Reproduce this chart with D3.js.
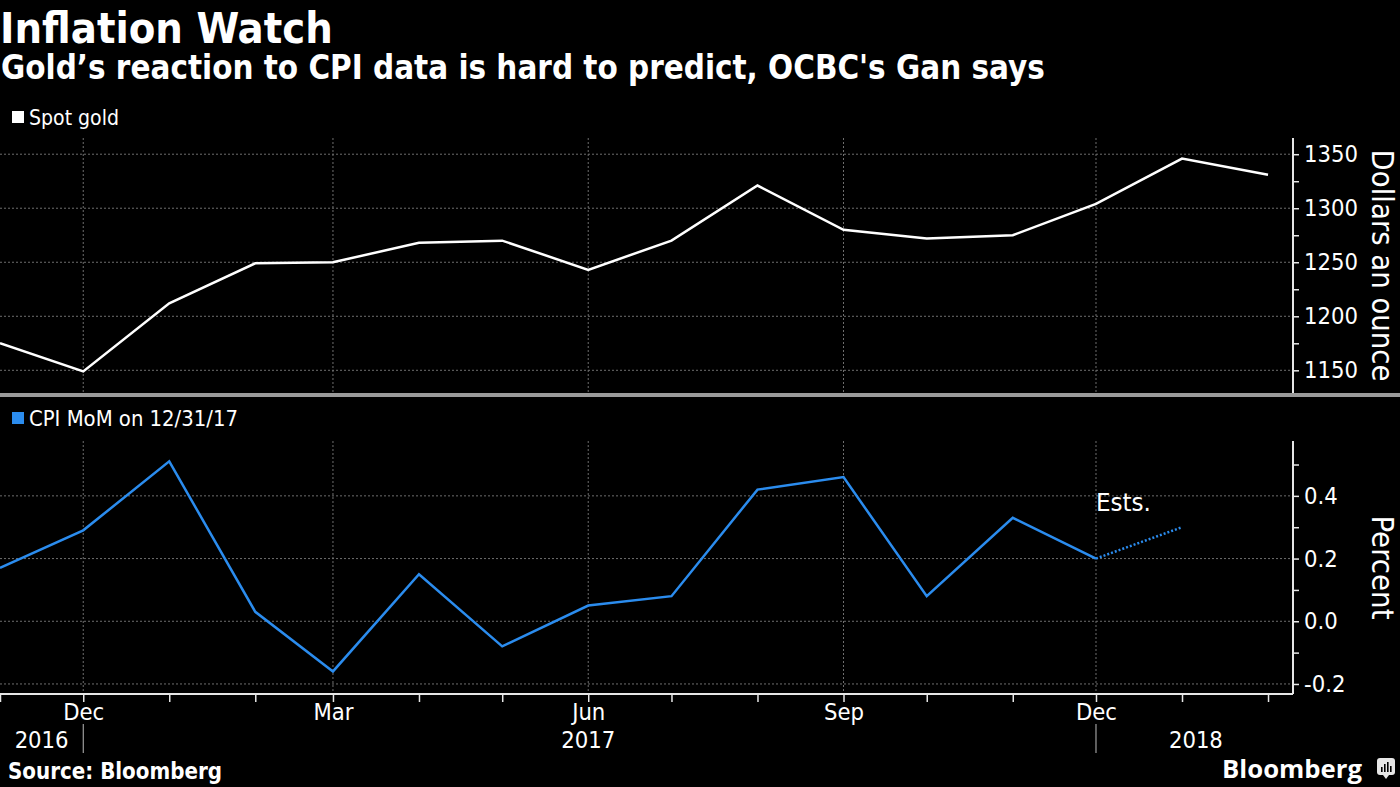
<!DOCTYPE html>
<html>
<head>
<meta charset="utf-8">
<script src="https://cdn.jsdelivr.net/npm/d3@7"></script>
<style>
  body { margin: 0; background: #000; }
  svg { display: block; }
  text { font-family: "DejaVu Sans Condensed", "Liberation Sans Narrow", "Open Sans", sans-serif; fill: #fff; }
</style>
</head>
<body>
<div id="chart"></div>
<script>
// monthly points, Nov 2016 .. Feb 2018
var goldMonths = ["2016-11", "2016-12", "2017-01", "2017-02", "2017-03", "2017-04", "2017-05", "2017-06",
    "2017-07", "2017-08", "2017-09", "2017-10", "2017-11", "2017-12", "2018-01", "2018-02"];
var goldValues = [1175, 1149, 1212, 1249, 1250, 1268, 1270, 1243, 1270, 1321, 1280, 1272, 1275, 1304, 1346, 1331];

var cpiMonths = ["2016-11", "2016-12", "2017-01", "2017-02", "2017-03", "2017-04", "2017-05", "2017-06",
    "2017-07", "2017-08", "2017-09", "2017-10", "2017-11", "2017-12"];
var cpiValues = [0.17, 0.29, 0.51, 0.03, -0.16, 0.15, -0.08, 0.05, 0.08, 0.42, 0.46, 0.08, 0.33, 0.2];

var estMonths = ["2017-12", "2018-01"];
var estValues = [0.2, 0.3];

var goldTicks = [1150, 1200, 1250, 1300, 1350];
var goldMinor = [1175, 1225, 1275, 1325];
var cpiTicks = [-0.2, 0.0, 0.2, 0.4];
var cpiMinor = [-0.1, 0.1, 0.3, 0.5];
var labelMonths = ["2016-12", "2017-03", "2017-06", "2017-09", "2017-12"];
var yearLabels = [["2016", "2016-11-16"], ["2017", "2017-06-01"], ["2018", "2018-01-06"]];
var yearBreaks = ["2016-12", "2017-12"];

var parse = d3.timeParse("%Y-%m");
var parseDay = d3.timeParse("%Y-%m-%d");

var W = 1400, H = 787;
var svg = d3.select("#chart").append("svg")
    .attr("width", W)
    .attr("height", H);

var axisX = 1293;
var x = d3.scaleTime()
    .domain([new Date(2016, 10, 1), new Date(2018, 1, 10)])
    .range([0, axisX]);

var y1 = d3.scaleLinear().domain([1129, 1365]).range([393, 138]);
var y2 = d3.scaleLinear().domain([-0.232, 0.575]).range([694, 441]);

// fit a text's font-size to a target width
function fit(sel, w) {
    var fs = parseFloat(sel.style("font-size"));
    var cur = sel.node().getComputedTextLength();
    sel.style("font-size", (fs * w / cur) + "px");
}

// titles
var t1 = svg.append("text").attr("x", 0).attr("y", 43)
    .style("font-weight", "bold").style("font-size", "42px").text("Inflation Watch");
fit(t1, 333);
var t2 = svg.append("text").attr("x", 1).attr("y", 79)
    .style("font-weight", "bold").style("font-size", "32px")
    .text("Gold\u2019s reaction to CPI data is hard to predict, OCBC's Gan says");
fit(t2, 1044);

// tick label size, shared
var probe = svg.append("text").style("font-size", "24px").text("1350");
var tickFs = 24 * 54 / probe.node().getComputedTextLength();
probe.remove();

var fontStack = "\"DejaVu Sans Condensed\", \"Liberation Sans Narrow\", \"Open Sans\", sans-serif";

function panel(y, top, bottom, ticks, minor, fmt, title, titleLen) {
    var g = svg.append("g");
    // horizontal grid
    g.selectAll(".hg").data(ticks).enter().append("line")
        .attr("x1", 0).attr("x2", axisX)
        .attr("y1", function (d) { return y(d); })
        .attr("y2", function (d) { return y(d); })
        .attr("stroke", "#6e6e6e").attr("stroke-width", 1)
        .attr("stroke-dasharray", "2,2");
    // vertical grid
    g.selectAll(".vg").data(labelMonths).enter().append("line")
        .attr("x1", function (d) { return x(parse(d)); })
        .attr("x2", function (d) { return x(parse(d)); })
        .attr("y1", top).attr("y2", bottom)
        .attr("stroke", "#6e6e6e").attr("stroke-width", 1)
        .attr("stroke-dasharray", "2,2");

    var ax = d3.axisRight(y)
        .tickValues(ticks.concat(minor))
        .tickSize(6)
        .tickPadding(5)
        .tickFormat(function (d) { return ticks.indexOf(d) >= 0 ? fmt(d).replace("\u2212", "-") : ""; });
    var a = g.append("g")
        .attr("transform", "translate(" + axisX + ",0)")
        .call(ax);
    a.select(".domain").remove();
    a.append("line").attr("x1", 0).attr("x2", 0).attr("y1", top).attr("y2", bottom)
        .attr("stroke", "#e6e6e6").attr("stroke-width", 2);
    a.selectAll(".tick line").attr("stroke", "#e6e6e6").attr("stroke-width", 1.5);
    a.selectAll(".tick text")
        .attr("fill", "#e6e6e6")
        .style("font-family", fontStack)
        .style("font-size", tickFs + "px");

    var mid = (top + bottom) / 2;
    var at = g.append("text")
        .attr("transform", "translate(1372," + mid + ") rotate(90)")
        .attr("text-anchor", "middle")
        .style("font-size", "27px")
        .attr("fill", "#e6e6e6")
        .text(title);
    fit(at, titleLen);
    return g;
}

panel(y1, 138, 393, goldTicks, goldMinor, d3.format("d"), "Dollars an ounce", 232);
panel(y2, 441, 694, cpiTicks, cpiMinor, d3.format(".1f"), "Percent", 104);

// separator
svg.append("rect").attr("x", 0).attr("y", 393).attr("width", W).attr("height", 4)
    .attr("fill", "#9a9a9a");

// legends
svg.append("rect").attr("x", 12).attr("y", 111).attr("width", 12).attr("height", 12).attr("fill", "#fff");
var l1 = svg.append("text").attr("x", 29).attr("y", 125).style("font-size", "20px")
    .attr("fill", "#e6e6e6").text("Spot gold");
fit(l1, 90);
svg.append("rect").attr("x", 12).attr("y", 412).attr("width", 12).attr("height", 12).attr("fill", "#2b8cee");
var l2 = svg.append("text").attr("x", 29).attr("y", 426).style("font-size", "20px")
    .attr("fill", "#e6e6e6").text("CPI MoM on 12/31/17");
fit(l2, 209);

// lines
var line1 = d3.line()
    .x(function (d, i) { return x(parse(goldMonths[i])); })
    .y(function (d) { return y1(d); });
svg.append("path").datum(goldValues)
    .attr("d", line1)
    .attr("fill", "none").attr("stroke", "#fff").attr("stroke-width", 2.5);

var line2 = d3.line()
    .x(function (d, i) { return x(parse(cpiMonths[i])); })
    .y(function (d) { return y2(d); });
svg.append("path").datum(cpiValues)
    .attr("d", line2)
    .attr("fill", "none").attr("stroke", "#2b8cee").attr("stroke-width", 2.5);

var line3 = d3.line()
    .x(function (d, i) { return x(parse(estMonths[i])); })
    .y(function (d) { return y2(d); });
svg.append("path").datum(estValues)
    .attr("d", line3)
    .attr("fill", "none").attr("stroke", "#2b8cee").attr("stroke-width", 2.5)
    .attr("stroke-dasharray", "2,2");

var est = svg.append("text")
    .attr("x", x(parse("2017-12")))
    .attr("y", 511)
    .style("font-size", "24px")
    .text("Ests.");
fit(est, 55);

// x axis
var xAxis = d3.axisBottom(x)
    .ticks(d3.timeMonth.every(1))
    .tickSize(8)
    .tickPadding(1)
    .tickFormat(function (d) {
        var k = d3.timeFormat("%Y-%m")(d);
        return labelMonths.indexOf(k) >= 0 ? d3.timeFormat("%b")(d) : "";
    });
var xa = svg.append("g")
    .attr("transform", "translate(0,694)")
    .call(xAxis);
xa.select(".domain").remove();
xa.append("line").attr("x1", 0).attr("x2", axisX).attr("y1", 0).attr("y2", 0)
    .attr("stroke", "#e6e6e6").attr("stroke-width", 2);
xa.selectAll(".tick line").attr("stroke", "#e6e6e6").attr("stroke-width", 1.5);
xa.selectAll(".tick text")
    .attr("fill", "#e6e6e6")
    .style("font-family", fontStack)
    .style("font-size", tickFs + "px");

// years
svg.selectAll(".yr").data(yearLabels).enter().append("text")
    .attr("x", function (d) { return x(parseDay(d[1])); })
    .attr("y", 748)
    .attr("text-anchor", "middle")
    .attr("fill", "#e6e6e6")
    .style("font-size", tickFs + "px")
    .text(function (d) { return d[0]; });
svg.selectAll(".yb").data(yearBreaks).enter().append("line")
    .attr("x1", function (d) { return x(parse(d)); })
    .attr("x2", function (d) { return x(parse(d)); })
    .attr("y1", 724).attr("y2", 753)
    .attr("stroke", "#bbb").attr("stroke-width", 1);

// footer
var src = svg.append("text").attr("x", 8).attr("y", 779)
    .style("font-weight", "bold").style("font-size", "20px").text("Source: Bloomberg");
fit(src, 214);

var bb = svg.append("text").attr("x", 1362).attr("y", 778)
    .attr("text-anchor", "end")
    .style("font-family", "\"Open Sans\", \"DejaVu Sans\", sans-serif")
    .style("font-weight", "bold").style("font-size", "27px").text("Bloomberg");
fit(bb, 140);

// small logo
var logo = svg.append("g").attr("transform", "translate(1377,758)");
logo.append("rect").attr("width", 18).attr("height", 17).attr("rx", 3).attr("fill", "#e6e6e6");
logo.append("path").attr("d", "M6,17 L9,21 L12,17 Z").attr("fill", "#e6e6e6");
[[4, 9], [7, 6], [10, 4], [13, 8]].forEach(function (b) {
    logo.append("rect").attr("x", b[0]).attr("y", b[1]).attr("width", 1.6)
        .attr("height", 14 - b[1]).attr("fill", "#000");
});
</script>
</body>
</html>
